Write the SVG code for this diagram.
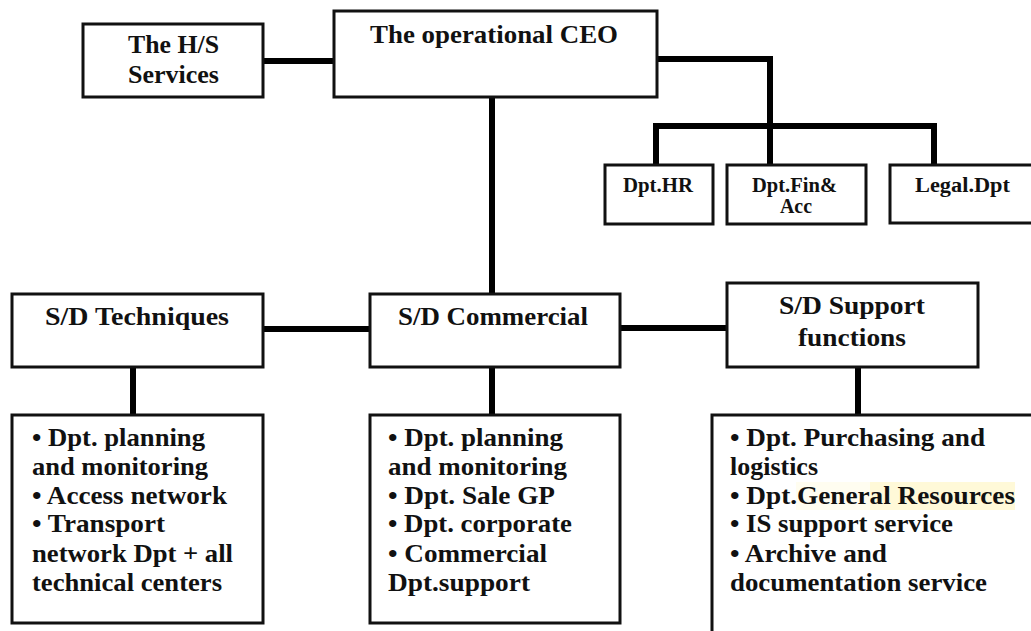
<svg xmlns="http://www.w3.org/2000/svg" width="1031" height="631" viewBox="0 0 1031 631">
<style>
.box{fill:#fff;stroke:#111;stroke-width:3}
.con{fill:none;stroke:#000;stroke-width:6;stroke-linejoin:miter}
.t{font-size:25px;text-anchor:middle}
.s{font-size:20px;text-anchor:middle}
.b{font-size:24.5px}
</style>
<rect width="1031" height="631" fill="#fff"/>
<g id="connectors">
<path class="con" d="M263 61H334"/>
<path class="con" d="M492 97V294"/>
<path class="con" d="M657 59H770V126"/>
<path class="con" d="M656 165V126H934V165"/>
<path class="con" d="M770 126V165"/>
<path class="con" d="M263 329H370"/>
<path class="con" d="M620 328H727"/>
<path class="con" d="M133 367V415"/>
<path class="con" d="M492 367V415"/>
<path class="con" d="M858 367V415"/>
</g>
<g font-family="'Liberation Serif', 'DejaVu Serif', serif" font-weight="bold" fill="#111">
<g id="hs">
<rect class="box" x="83" y="24" width="180" height="73"/>
<text class="t" x="173.5" y="53" textLength="91" lengthAdjust="spacingAndGlyphs">The H/S</text>
<text class="t" x="173.5" y="83" textLength="91" lengthAdjust="spacingAndGlyphs">Services</text>
</g>
<g id="ceo">
<rect class="box" x="334" y="11" width="323" height="86"/>
<text class="t" x="494" y="43" textLength="248" lengthAdjust="spacingAndGlyphs">The operational CEO</text>
</g>
<g id="hr">
<rect class="box" x="605" y="165" width="108" height="59"/>
<text class="s" x="658" y="192" textLength="70" lengthAdjust="spacingAndGlyphs">Dpt.HR</text>
</g>
<g id="fin">
<rect class="box" x="727" y="165" width="139" height="59"/>
<text class="s" x="794.5" y="192" textLength="85" lengthAdjust="spacingAndGlyphs">Dpt.Fin&amp;</text>
<text class="s" x="796" y="213" textLength="32" lengthAdjust="spacingAndGlyphs">Acc</text>
</g>
<g id="legal">
<rect class="box" x="890" y="165" width="160" height="58"/>
<text class="s" x="962.5" y="192" textLength="95" lengthAdjust="spacingAndGlyphs">Legal.Dpt</text>
</g>
<g id="techniques">
<rect class="box" x="12" y="294" width="251" height="73"/>
<text class="t" x="137" y="325" textLength="184" lengthAdjust="spacingAndGlyphs">S/D Techniques</text>
</g>
<g id="commercial">
<rect class="box" x="370" y="294" width="250" height="73"/>
<text class="t" x="493" y="325" textLength="190" lengthAdjust="spacingAndGlyphs">S/D Commercial</text>
</g>
<g id="support">
<rect class="box" x="727" y="283" width="251" height="84"/>
<text class="t" x="852" y="314" textLength="146" lengthAdjust="spacingAndGlyphs">S/D Support</text>
<text class="t" x="852" y="346" textLength="108" lengthAdjust="spacingAndGlyphs">functions</text>
</g>
<g id="tech-list">
<rect class="box" x="12" y="415" width="251" height="208"/>
<text class="b" x="32" y="446" textLength="173" lengthAdjust="spacingAndGlyphs">• Dpt. planning</text>
<text class="b" x="32" y="475" textLength="176" lengthAdjust="spacingAndGlyphs">and monitoring</text>
<text class="b" x="32" y="504" textLength="195" lengthAdjust="spacingAndGlyphs">• Access network</text>
<text class="b" x="32" y="532" textLength="133" lengthAdjust="spacingAndGlyphs">• Transport</text>
<text class="b" x="32" y="562" textLength="201" lengthAdjust="spacingAndGlyphs">network Dpt + all</text>
<text class="b" x="32" y="591" textLength="190" lengthAdjust="spacingAndGlyphs">technical centers</text>
</g>
<g id="comm-list">
<rect class="box" x="370" y="415" width="250" height="208"/>
<text class="b" x="388" y="446" textLength="175" lengthAdjust="spacingAndGlyphs">• Dpt. planning</text>
<text class="b" x="388" y="475" textLength="179" lengthAdjust="spacingAndGlyphs">and monitoring</text>
<text class="b" x="388" y="504" textLength="167" lengthAdjust="spacingAndGlyphs">• Dpt. Sale GP</text>
<text class="b" x="388" y="532" textLength="184" lengthAdjust="spacingAndGlyphs">• Dpt. corporate</text>
<text class="b" x="388" y="562" textLength="159" lengthAdjust="spacingAndGlyphs">• Commercial</text>
<text class="b" x="388" y="591" textLength="142" lengthAdjust="spacingAndGlyphs">Dpt.support</text>
</g>
<g id="support-list">
<rect class="box" x="712" y="415" width="340" height="240"/>
<rect x="796" y="482" width="74" height="28" fill="#fffdf0"/>
<rect x="870" y="482" width="145" height="28" fill="#fff9d8"/>
<text class="b" x="730" y="446" textLength="255" lengthAdjust="spacingAndGlyphs">• Dpt. Purchasing and</text>
<text class="b" x="730" y="475" textLength="88" lengthAdjust="spacingAndGlyphs">logistics</text>
<text class="b" x="730" y="504" textLength="285" lengthAdjust="spacingAndGlyphs">• Dpt.General Resources</text>
<text class="b" x="730" y="532" textLength="223" lengthAdjust="spacingAndGlyphs">• IS support service</text>
<text class="b" x="730" y="562" textLength="157" lengthAdjust="spacingAndGlyphs">• Archive and</text>
<text class="b" x="730" y="591" textLength="257" lengthAdjust="spacingAndGlyphs">documentation service</text>
</g>
</g>
</svg>
